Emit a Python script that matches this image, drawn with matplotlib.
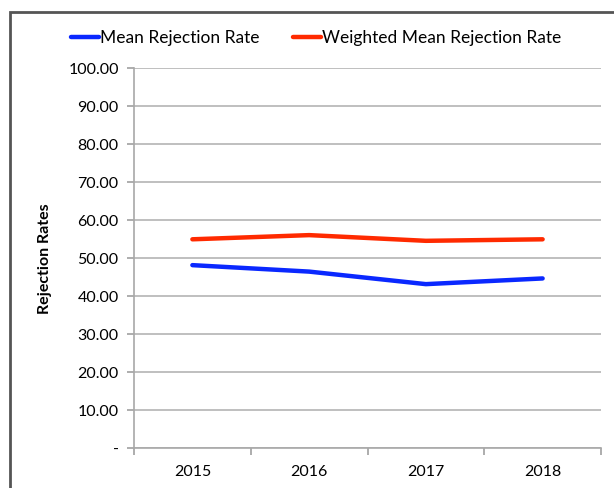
import matplotlib
matplotlib.use("Agg")
import matplotlib.pyplot as plt
from matplotlib.patches import Rectangle
import numpy as np

years = ["2015", "2016", "2017", "2018"]
mean_rate = [48.2, 46.5, 43.2, 44.7]
weighted_rate = [55.0, 56.1, 54.6, 55.0]
yticks = [0, 10, 20, 30, 40, 50, 60, 70, 80, 90, 100]

plt.rcParams['font.family'] = ['Lato', 'DejaVu Sans']

fig = plt.figure(figsize=(6.14, 4.88), dpi=100)
ax = fig.add_axes([134/614, 1-448.3/488, (601-134)/614, (448.3-68.3)/488])

x = np.arange(len(years))
l1, = ax.plot(x, mean_rate, color="#0a28ff", lw=3.2, solid_capstyle="round",
              label="Mean Rejection Rate")
l2, = ax.plot(x, weighted_rate, color="#ff2a00", lw=3.2, solid_capstyle="round",
              label="Weighted Mean Rejection Rate")

ax.set_xlim(-0.5, len(years) - 0.5)
ax.set_ylim(0, 100)
ax.set_yticks(yticks)
ax.set_yticklabels(["-" if v == 0 else f"{v:.2f}" for v in yticks], fontsize=11.5)
ax.yaxis.grid(True, color="#b4b4b4", lw=1.2)
ax.set_axisbelow(True)

ax.set_xticks(x)
ax.set_xticklabels(years, fontsize=11.5)
ax.tick_params(axis="x", which="major", length=0, pad=12)
ax.set_xticks(np.arange(-0.5, len(years)), minor=True)
ax.tick_params(axis="x", which="minor", length=5, color="#a0a0a0", width=1.2)
ax.tick_params(axis="y", length=5, color="#a0a0a0", width=1.2, pad=6)

for s in ["top", "right"]:
    ax.spines[s].set_visible(False)
for s in ["left", "bottom"]:
    ax.spines[s].set_color("#a8a8a8")
    ax.spines[s].set_linewidth(1.2)

ax.set_ylabel("Rejection Rates", fontsize=11.5, fontweight="bold", labelpad=12)

fig.legend(handles=[l1, l2], loc="center", bbox_to_anchor=(0.515, 1 - 38/488),
           ncol=2, frameon=False, fontsize=12.5, handlelength=1.6,
           handletextpad=0.1, columnspacing=1.9)

fig.patches.append(Rectangle((10/614, -0.05), 1.0, 1 - 12/488 + 0.05,
                             transform=fig.transFigure, fill=False,
                             edgecolor="#555555", lw=2))

fig.savefig("out.png", dpi=100)
